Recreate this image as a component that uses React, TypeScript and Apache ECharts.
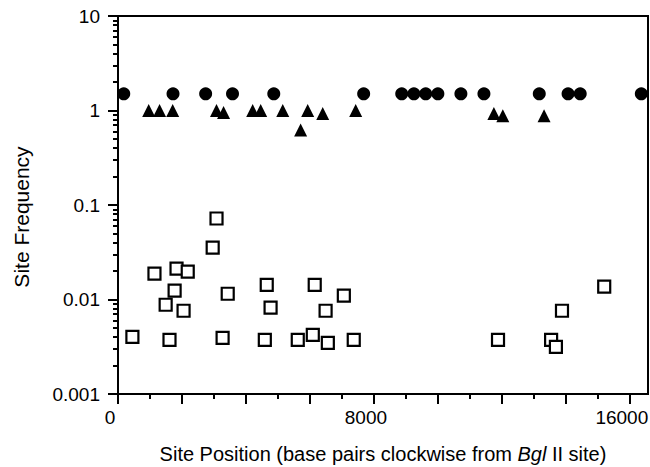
import React, { useEffect, useRef } from "react";
import * as echarts from "echarts";

// Filled circles (site position, frequency)
const circlePos = [180, 1720, 2740, 3580, 4870, 7680, 8870, 9250, 9620, 10000, 10720, 11440, 13170, 14070, 14450, 16360];
const circleFreq = [1.5, 1.5, 1.5, 1.5, 1.5, 1.5, 1.5, 1.5, 1.5, 1.5, 1.5, 1.5, 1.5, 1.5, 1.5, 1.5];

// Filled triangles
const trianglePos = [960, 1300, 1710, 3080, 3300, 4210, 4460, 5150, 5710, 5930, 6400, 7430, 11750, 12030, 13320];
const triangleFreq = [1.0, 1.0, 1.0, 1.0, 0.95, 1.0, 1.0, 1.0, 0.62, 1.0, 0.93, 1.0, 0.93, 0.88, 0.88];

// Open squares
const squarePos = [3080, 2960, 1140, 1830, 2180, 1770, 1490, 2050, 3430, 4650, 4770, 6150, 6490, 7060, 450, 1610, 3270, 4590, 5620, 6090, 6560, 7370, 15200, 13880, 11880, 13540, 13690];
const squareFreq = [0.072, 0.0354, 0.0188, 0.0212, 0.0197, 0.0124, 0.0088, 0.0076, 0.0115, 0.0143, 0.0082, 0.0143, 0.0076, 0.011, 0.00403, 0.00374, 0.00393, 0.00374, 0.00374, 0.00422, 0.00348, 0.00374, 0.0137, 0.0076, 0.00374, 0.00374, 0.00316];

const xMajorTicks = [0, 2000, 4000, 6000, 8000, 10000, 12000, 14000, 16000];
const xMinorTicks = [1000, 3000, 5000, 7000, 9000, 11000, 13000, 15000];
const xLabels = [0, 8000, 16000];
const yMinorTicks = [
  0.002, 0.003, 0.004, 0.005, 0.006, 0.007, 0.008, 0.009,
  0.02, 0.03, 0.04, 0.05, 0.06, 0.07, 0.08, 0.09,
  0.2, 0.3, 0.4, 0.5, 0.6, 0.7, 0.8, 0.9,
  2, 3, 4, 5, 6, 7, 8, 9,
];

const FONT = "Liberation Sans";

export default function App() {
  const ref = useRef<HTMLDivElement>(null);
  useEffect(() => {
    document.body.style.margin = "0";
    const chart = echarts.init(ref.current!, undefined, { renderer: "svg" });
    const zip = (a: number[], b: number[]) => a.map((v, i) => [v, b[i]]);
    chart.setOption({
      animation: false,
      backgroundColor: "#fff",
      textStyle: { fontFamily: FONT, color: "#000" },
      grid: {
        left: 118, right: 2, top: 16, bottom: 73,
        show: true, borderColor: "#000", borderWidth: 2,
        outerBoundsMode: "none", containLabel: false,
      },
      xAxis: [
        {
          type: "value",
          min: 0,
          max: 16569,
          axisLine: { onZero: false, lineStyle: { color: "#000", width: 2 } },
          axisTick: { customValues: xMajorTicks, length: 10, lineStyle: { color: "#000", width: 2 } },
          axisLabel: {
            customValues: xLabels, margin: 14, fontSize: 19, color: "#000", fontFamily: FONT,
            padding: [0, 16, 0, 0],
            formatter: (v: number) => String(Math.round(v)),
          },
          splitLine: { show: false },
          name: "Site Position (base pairs clockwise from {i|Bgl} II site)",
          nameLocation: "middle",
          nameGap: 50,
          nameTextStyle: {
            fontSize: 20,
            color: "#000",
            fontFamily: FONT,
            rich: { i: { fontStyle: "italic", fontSize: 20, fontFamily: FONT, color: "#000" } },
          },
        },
        {
          type: "value",
          min: 0,
          max: 16569,
          position: "bottom",
          axisLine: { show: false },
          axisTick: { customValues: xMinorTicks, length: 5, lineStyle: { color: "#000", width: 2 } },
          axisLabel: { show: false },
          splitLine: { show: false },
        },
      ],
      yAxis: [
        {
          type: "log",
          logBase: 10,
          min: 0.001,
          max: 10,
          axisLine: { show: true, onZero: false, lineStyle: { color: "#000", width: 2 } },
          axisTick: { show: true, length: 10, lineStyle: { color: "#000", width: 2 } },
          axisLabel: {
            margin: 18,
            fontSize: 19,
            color: "#000",
            fontFamily: FONT,
            formatter: (v: number) => String(Number(v.toPrecision(3))),
          },
          splitLine: { show: false },
          name: "Site Frequency",
          nameLocation: "middle",
          nameRotate: 90,
          nameGap: 86,
          nameTextStyle: { fontSize: 21, color: "#000", fontFamily: FONT, padding: [0, 24, 0, 0] },
        },
        {
          type: "log",
          logBase: 10,
          min: 0.001,
          max: 10,
          position: "left",
          axisLine: { show: false },
          axisTick: { show: true, customValues: yMinorTicks, length: 5, lineStyle: { color: "#000", width: 2 } },
          axisLabel: { show: false },
          splitLine: { show: false },
        },
      ],
      series: [
        {
          type: "scatter",
          data: zip(circlePos, circleFreq),
          symbol: "circle",
          symbolSize: 13,
          itemStyle: { color: "#000", opacity: 1 },
          clip: false,
        },
        {
          type: "scatter",
          data: zip(trianglePos, triangleFreq),
          symbol: "triangle",
          symbolSize: 13,
          itemStyle: { color: "#000", opacity: 1 },
          clip: false,
        },
        {
          type: "scatter",
          data: zip(squarePos, squareFreq),
          symbol: "rect",
          symbolSize: 12,
          itemStyle: { color: "#fff", borderColor: "#000", borderWidth: 2.2, opacity: 1 },
          clip: false,
        },
      ],
    });
    return () => chart.dispose();
  }, []);
  return <div ref={ref} style={{ position: "absolute", left: 0, top: 0, width: 650, height: 467 }} />;
}
